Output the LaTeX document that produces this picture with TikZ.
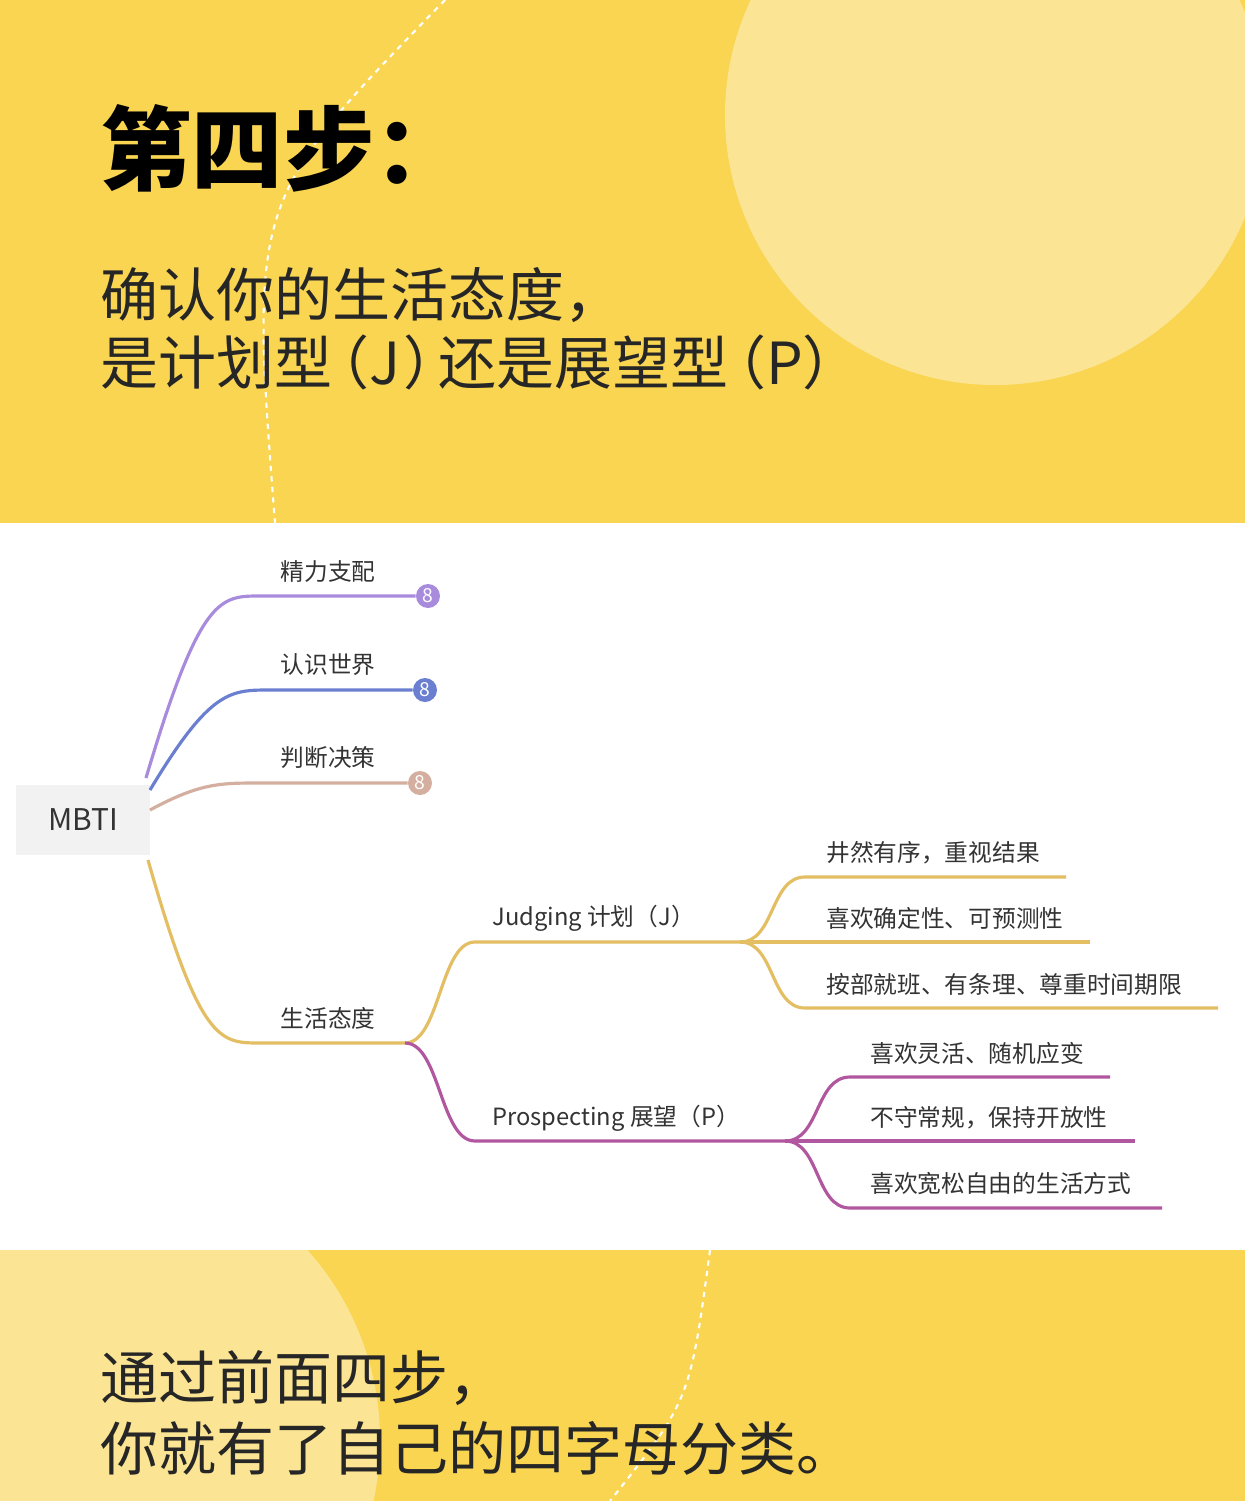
\documentclass[tikz,border=0pt]{standalone}
\usepackage{fontspec}
\setmainfont{Noto Sans CJK SC}
\usetikzlibrary{positioning}
\definecolor{bandyellow}{HTML}{F9D552}
\definecolor{lightyellow}{HTML}{FBE594}
\definecolor{cpurple}{HTML}{A98BDD}
\definecolor{cblue}{HTML}{6B7FD0}
\definecolor{cbrown}{HTML}{D4AE9E}
\definecolor{cgold}{HTML}{E3BE62}
\definecolor{cmagenta}{HTML}{B1579F}
\tikzset{
  branch/.style={line width=1.8pt},
  lbl/.style={font=\fontsize{13.5pt}{15pt}\selectfont, text=black!80, inner sep=0pt},
  leaf/.style={lbl, anchor=west},
  badge/.style={circle, fill=#1, text=white, inner sep=0pt, minimum size=0.48cm, font=\fontsize{11pt}{12pt}\selectfont},
  bigtxt/.style={font=\fontsize{33pt}{40pt}\selectfont, anchor=west, inner sep=0pt, align=left, text=black!85},
}
\begin{document}
\begin{tikzpicture}[x=0.02cm,y=-0.02cm]
\useasboundingbox (0,0) rectangle (1245,1501);
% bands
\fill[white] (0,0) rectangle (1245,1501);
\fill[bandyellow] (0,0) rectangle (1245,523);
\begin{scope}
  \clip (0,0) rectangle (1245,523);
  \fill[lightyellow] (995,115) circle (270);
  \draw[white, dashed, line width=1.2pt] (445,0) .. controls (250,200) .. (275,523);
\end{scope}
\fill[bandyellow] (0,1250) rectangle (1245,1501);
\begin{scope}
  \clip (0,1250) rectangle (1245,1501);
  \fill[lightyellow] (95,1440) circle (285);
  \draw[white, dashed, line width=1.2pt] (710,1250) .. controls (690,1400) .. (610,1501);
\end{scope}

% headings
\node[bigtxt, font=\fontsize{52pt}{60pt}\selectfont\bfseries, text=black] (title) at (100,148) {第四步：};
\node[bigtxt] (sub1) at (100,295) {确认你的生活态度，};
\node[bigtxt] (sub2) at (100,362) {是计划型\kern-0.35em（J\kern0.05em）\kern-0.4em 还是展望型\kern-0.35em（P）};
\node[bigtxt] (end1) at (100,1378) {通过前面四步，};
\node[bigtxt] (end2) at (100,1448) {你就有了自己的四字母分类。};

% root
\node[fill=black!5, minimum width=2.7cm, minimum height=1.4cm,
      font=\fontsize{17pt}{20pt}\selectfont, text=black!80] (mbti) at (83,820) {MBTI};
\coordinate (r1) at (146,778);
\coordinate (r2) at (150,790);
\coordinate (r3) at (150,810);
\coordinate (r4) at (148,860);

% first level
\node[badge=cpurple] (b1) at (428,596) {8};
\node[badge=cblue] (b2) at (425,690) {8};
\node[badge=cbrown] (b3) at (420,783) {8};
\coordinate (life) at (405,1043);
\node[lbl] (l1) at (328,572) {精力支配};
\node[lbl] (l2) at (328,665) {认识世界};
\node[lbl] (l3) at (328,758) {判断决策};
\node[lbl] (l4) at (328,1018) {生活态度};
\draw[branch, cpurple] (r1) .. controls (200,596) and (220,596) .. (260,596) -- (b1);
\draw[branch, cblue] (r2) .. controls (210,690) and (230,690) .. (270,690) -- (b2);
\draw[branch, cbrown] (r3) .. controls (200,783) and (220,783) .. (260,783) -- (b3);
\draw[branch, cgold] (r4) .. controls (200,1043) and (220,1043) .. (260,1043) -- (life);

% second level
\coordinate (jj) at (740,942);
\coordinate (pp) at (785,1141);
\node[lbl, anchor=west] (jl) at (492,918) {Judging 计划（J）};
\node[lbl, anchor=west] (pl) at (492,1118) {Prospecting 展望（P）};
\draw[branch, cgold] (life) .. controls (440,1043) and (440,942) .. (475,942) -- (jj);
\draw[branch, cmagenta] (life) .. controls (440,1043) and (440,1141) .. (475,1141) -- (pp);

% leaves of J
\coordinate (j1) at (1066,877);
\coordinate (j2) at (1090,942);
\coordinate (j3) at (1218,1008);
\node[leaf] (jt1) at (826,853) {井然有序，重视结果};
\node[leaf] (jt2) at (826,918) {喜欢确定性、可预测性};
\node[leaf] (jt3) at (826,984) {按部就班、有条理、尊重时间期限};
\draw[branch, cgold] (jj) .. controls (775,942) and (770,877) .. (805,877) -- (j1);
\draw[branch, cgold] (jj) -- (j2);
\draw[branch, cgold] (jj) .. controls (775,942) and (770,1008) .. (805,1008) -- (j3);

% leaves of P
\coordinate (p1) at (1110,1077);
\coordinate (p2) at (1135,1141);
\coordinate (p3) at (1162,1208);
\node[leaf] (pt1) at (870,1053) {喜欢灵活、随机应变};
\node[leaf] (pt2) at (870,1118) {不守常规，保持开放性};
\node[leaf] (pt3) at (870,1184) {喜欢宽松自由的生活方式};
\draw[branch, cmagenta] (pp) .. controls (820,1141) and (815,1077) .. (850,1077) -- (p1);
\draw[branch, cmagenta] (pp) -- (p2);
\draw[branch, cmagenta] (pp) .. controls (820,1141) and (815,1208) .. (850,1208) -- (p3);
\end{tikzpicture}
\end{document}
